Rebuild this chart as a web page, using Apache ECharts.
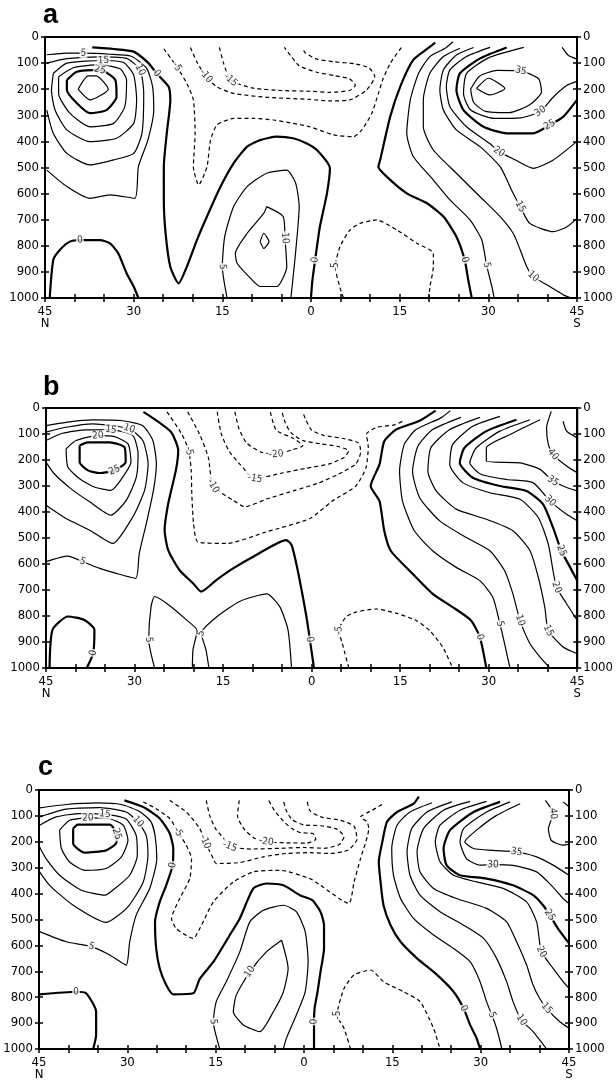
<!DOCTYPE html>
<html>
<head>
<meta charset="utf-8">
<script src="https://cdn.jsdelivr.net/npm/echarts/dist/echarts.min.js"></script>
<style>
  html, body { margin: 0; padding: 0; background: #fff; }
  #chart { width: 616px; height: 1084px; }
</style>
</head>
<body>
<div id="chart"></div>
<script>
// contour lines: [value (m/s), [[lat, hPa], ...], indexes of labelled points]
// lat < 0 is north of the equator (left side), lat > 0 is south
const contoursA = [
  [30, [[-39.4,200],[-37.7,149],[-36.3,149],[-34.3,200],[-37.4,241],[-39.4,200]], []],
  [25, [[-41.3,165],[-39.6,133],[-35.7,126],[-33.1,165],[-32.9,229],[-34.6,280],[-37.4,292],[-39.6,254],[-41.3,203],[-41.3,165]], [2]],
  [20, [[-42.7,152],[-40.2,118],[-35.7,106],[-32.3,122],[-31.2,165],[-31.5,267],[-33.4,331],[-37.4,344],[-40.8,292],[-42.7,216],[-42.7,152]], []],
  [15, [[-43.6,140],[-41.3,100],[-35.1,90],[-31.7,98],[-30,146],[-29.5,241],[-30,331],[-32.9,388],[-37.4,401],[-41.3,356],[-43.3,280],[-43.9,203],[-43.6,140]], [2]],
  [10, [[-44.7,100],[-41.3,83],[-35.7,76],[-31.2,82],[-28.9,126],[-28.3,216],[-28.6,369],[-30,446],[-33.4,471],[-37.4,490],[-41.3,446],[-43.6,369],[-44.7,280]], [4]],
  [5, [[-44.7,510],[-41.3,573],[-37.4,618],[-34,605],[-29.8,618],[-29.2,497],[-27.6,395],[-26.6,280],[-26.8,190],[-27.8,120],[-30.4,74],[-34,66],[-38.5,62],[-41.3,62],[-44.7,68]], [12]],
  [0, [[-37,40],[-33.4,46],[-30,56],[-27.5,100],[-26.1,140],[-24.1,190],[-23.8,241],[-24.4,369],[-24.9,497],[-24.9,624],[-24.6,752],[-23.8,880],[-22.4,944],[-21,880],[-19.3,778],[-17.6,688],[-15.3,573],[-13.1,484],[-10.8,420],[-8.6,395],[-5.8,382],[-3,388],[-0.8,407],[1,433],[3.2,503],[2.7,599],[1.5,727],[0.7,854],[0.2,940],[0,1000]], [4, 27]],
  [0, [[-44.2,1000],[-43.6,854],[-42.5,816],[-40.8,784],[-39.1,778],[-35.7,778],[-34,791],[-32.6,829],[-31.2,905],[-30,956],[-29.2,1000]], [4]],
  [5, [[-14.2,1000],[-15,880],[-14.6,765],[-13.1,650],[-10.8,573],[-7.5,522],[-4.1,510],[-2.6,560],[-2,650],[-2.3,750],[-2.8,870],[-3.4,1000]], [1]],
  [10, [[-7.5,650],[-4.7,688],[-4.4,770],[-4.1,880],[-5.8,956],[-8.6,956],[-10.5,918],[-12.5,867],[-12.8,829],[-10.8,752],[-8,676],[-7.5,650]], [2]],
  [15, [[-8.6,784],[-8,752],[-7.1,784],[-8,810],[-8.6,784]], []],
  [0, [[21,22],[19.8,43],[17.3,88],[15.1,190],[13.4,305],[11.7,471],[11.4,497],[12.8,535],[16.2,599],[19.6,637],[22.4,688],[24.6,765],[26,854],[26.6,931],[27.2,1000]], [12]],
  [5, [[24,18],[22.7,43],[20.1,75],[18.2,139],[16.8,241],[16.2,369],[17.3,458],[20.7,548],[23.5,624],[26.9,701],[28.9,778],[29.7,874],[30.6,956],[31,1000]], [11]],
  [10, [[25.2,43],[22.4,75],[20.1,139],[19,241],[19,344],[20.7,433],[24.6,522],[28.6,612],[32,688],[34.2,752],[35.4,816],[36.5,880],[37.6,918],[40.4,956],[42.7,988],[44,1000]], [12]],
  [15, [[27.5,40],[24.6,69],[22.4,126],[21.8,203],[22.4,280],[24.6,356],[28.6,420],[32,497],[34.2,599],[35.4,650],[37,714],[41,746],[43.3,727],[45,695]], [9]],
  [20, [[30.3,40],[26.3,75],[23.5,126],[22.9,190],[23.5,267],[26.3,344],[30.3,409],[31.8,440],[34.5,470],[37.6,503],[41,471],[45,400]], [7]],
  [25, [[33.1,40],[28.6,82],[25.2,139],[24.6,203],[25.8,280],[29.2,344],[33.1,369],[37.6,369],[40.4,337],[42.7,305],[45,241]], [8]],
  [30, [[36,40],[30,80],[26.3,140],[25.8,216],[27,280],[31,312],[35.5,310],[38.8,285],[41,230],[43.3,185],[45,170]], [7]],
  [35, [[27,200],[28.5,150],[31.5,128],[35.5,130],[38.5,160],[39,210],[37,260],[33.5,290],[29.5,285],[27.5,250],[27,200]], [3]],
  [40, [[28,197],[30,158],[32.8,197],[30.3,222],[28,197]], []],
  [35, [[42.5,40],[43.5,70],[45,85]], []],
  [-5, [[-24.9,45],[-22.7,114],[-21,178],[-19.9,241],[-19.6,369],[-19.9,497],[-19,567],[-17.6,497],[-17,395],[-15.9,337],[-13.1,312],[-9.7,312],[-6.3,318],[-3,331],[-0.2,344],[3.8,375],[7.2,382],[8.6,356],[10.3,292],[11.4,216],[12.2,160],[13.4,101],[15.3,40]], [1]],
  [-10, [[-20.4,40],[-19.2,100],[-17.8,150],[-16,190],[-13.1,216],[-7.5,231],[-0.2,239],[3,245],[6.6,241],[9.4,203],[10.8,152],[9.8,118],[7.5,103],[4,95],[1,85],[-1,60],[-1.5,40]], [2]],
  [-15, [[-15.5,40],[-14.8,100],[-13.6,165],[-10,195],[-5,205],[0,208],[3,212],[6.5,205],[7.5,185],[6.5,160],[4,148],[1,135],[-2,110],[-3.5,70],[-4.5,40]], [2]],
  [-5, [[5.5,1000],[4.9,960],[4.1,880],[4.9,803],[6.6,739],[8.3,714],[11.1,701],[14.5,739],[17.9,790],[20.7,829],[20.7,880],[20.1,960],[20,1000]], [2]]
];

const contoursB = [
  [25, [[-39.3,144],[-37.9,132],[-34.2,132],[-31.7,151],[-31.5,208],[-33.4,240],[-35.9,250],[-37.9,240],[-39.3,208],[-39.3,144]], [5]],
  [20, [[-41.6,157],[-39.9,125],[-36.2,106],[-33.4,110],[-31.1,138],[-30.6,208],[-32,266],[-34,317],[-36.8,304],[-39.3,272],[-41.3,227],[-41.6,157]], [2]],
  [15, [[-45,125],[-42.2,97],[-38.2,84],[-34,84],[-30.3,106],[-29.4,176],[-29.7,266],[-31.4,355],[-34,412],[-37.6,361],[-40.8,310],[-43.6,253],[-45,208]], [3]],
  [10, [[-45,93],[-41.6,74],[-37.1,61],[-30.9,80],[-28.6,125],[-27.7,215],[-28.3,317],[-30.3,419],[-33.7,521],[-37.6,470],[-41.6,425],[-45,374]], [3]],
  [5, [[-45,68],[-41.6,55],[-37.1,46],[-32,49],[-28.6,68],[-26.9,125],[-26.3,215],[-26.8,317],[-28,444],[-29.2,559],[-29.8,655],[-33.1,636],[-35.9,617],[-38.8,591],[-41.3,570],[-45,591]], [13]],
  [0, [[-28.5,15],[-26.5,45],[-23.8,93],[-22.6,163],[-23,240],[-24.3,368],[-24.9,470],[-24.3,547],[-22.4,623],[-20.1,674],[-18.7,706],[-16.1,661],[-13.3,617],[-9.9,572],[-4.3,508],[-3.4,527],[-2.6,598],[-1.7,700],[-0.9,800],[-0.3,890],[0.4,1000]], [19]],
  [0, [[-44.4,1000],[-43.9,853],[-41.3,802],[-38.5,815],[-36.8,853],[-37,942],[-38.1,1000]], [5]],
  [5, [[-26.6,1000],[-27.6,891],[-27.2,764],[-26.6,725],[-24.6,751],[-21.2,815],[-19.4,856],[-20.1,930],[-20.2,1000]], [1]],
  [5, [[-17.4,1000],[-17.9,930],[-18.7,866],[-16.1,804],[-12.2,744],[-7.6,715],[-5.4,764],[-4,853],[-3.4,1000]], [2]],
  [0, [[21,10],[18.3,49],[14.3,83],[12.3,128],[11.5,217],[10,300],[11.5,358],[12.3,472],[13.4,549],[16.6,626],[20.5,715],[23.9,766],[27,817],[28.5,881],[29.6,1000]], [13]],
  [5, [[23.5,10],[21.9,38],[17.7,83],[15.7,140],[14.9,243],[15.4,358],[17.4,472],[20.5,549],[24.5,613],[28.5,664],[30.7,728],[31.9,830],[32.7,907],[33.6,1000]], [11]],
  [10, [[25.3,36],[20.5,83],[18,147],[17.1,243],[18.3,345],[21.7,434],[26.2,498],[30.2,549],[32.7,626],[34.1,715],[35.3,817],[37,907],[38.7,958],[40.4,1000]], [10]],
  [15, [[28.5,36],[23.4,83],[20.2,153],[19.7,243],[21.1,319],[24.5,389],[29.6,428],[34.1,472],[37,549],[38.4,651],[39.5,766],[40.1,856],[42.6,919],[45,945]], [11]],
  [20, [[31.9,32],[27.3,70],[23.9,140],[23.4,217],[25.6,287],[30.2,326],[35.3,351],[38.4,421],[40.1,524],[40.9,626],[41.5,690],[43.2,753],[45,817]], [10]],
  [25, [[34.7,45],[29.6,89],[25.9,153],[25.1,211],[27.3,268],[31.9,300],[36.4,319],[39.2,370],[40.9,460],[42.3,549],[43.8,613],[45,664]], [9]],
  [30, [[37,45],[31.9,89],[27.9,153],[26.8,211],[28.7,255],[33,275],[37.5,287],[40.4,358],[43.2,409],[45,434]], [7]],
  [35, [[38.7,45],[33.6,102],[29.6,153],[29.6,204],[35.3,211],[38.7,236],[40.9,281],[43.2,306],[45,319]], [6]],
  [40, [[40.6,13],[39.8,77],[40.1,140],[40.9,179],[43.2,223],[45,249]], [3]],
  [45, [[42.6,51],[43.2,89],[45,115]], []],
  [-5, [[-24.5,15],[-22,100],[-20.8,165],[-20.4,240],[-20.3,330],[-20,445],[-19.3,515],[-14.4,521],[-7.6,476],[-0.3,425],[3.5,358],[7.5,300],[9.2,230],[9.6,150],[9.3,100],[11,75],[14,65],[15.5,50]], [2]],
  [-10, [[-21,15],[-19,100],[-17.5,190],[-16.7,300],[-13.3,355],[-11.3,380],[-7.6,350],[-3,318],[1,290],[4.5,255],[7.5,215],[8.3,170],[8,135],[5.5,118],[2,105],[0,85],[-1,45],[-1.5,15]], [3]],
  [-15, [[-16,15],[-15.3,100],[-14,165],[-12,220],[-9.6,272],[-5,250],[-1,232],[3,215],[5.5,190],[6.3,165],[4.5,148],[1.5,138],[-1.5,125],[-3.5,95],[-4.5,55],[-5,15]], [4]],
  [-20, [[-13,15],[-12.3,80],[-11,135],[-8.5,170],[-6,178],[-3.5,162],[-1.5,145],[-3,118],[-6,85],[-7,15]], [4]],
  [-5, [[6.3,1000],[5.2,906],[4.6,856],[5.8,804],[7.5,785],[10.9,773],[14.3,789],[17.7,817],[20,856],[22.2,919],[23.9,1000]], [2]]
];

const contoursC = [
  [25, [[-39.2,149],[-38.4,134],[-33,134],[-31.8,170],[-31.9,205],[-33.6,233],[-37.2,242],[-39.2,207],[-39.2,149]], [3]],
  [20, [[-41.5,155],[-39.8,117],[-36.7,108],[-33,111],[-30.7,136],[-29.9,194],[-31,258],[-33.6,303],[-37.2,310],[-39.8,278],[-41.2,226],[-41.5,155]], [2]],
  [15, [[-44.9,136],[-42.1,104],[-38.1,91],[-33.8,93],[-30.2,112],[-28.5,175],[-28.3,252],[-29.6,329],[-32.1,380],[-33.8,406],[-37.8,387],[-41.5,329],[-43.8,265],[-44.9,220]], [3]],
  [10, [[-44.9,104],[-40.4,74],[-34.7,68],[-30.2,85],[-28.2,123],[-26.8,175],[-26.5,252],[-27.3,355],[-29.9,451],[-33.6,511],[-39.2,445],[-43.2,368],[-44.9,316]], [4]],
  [5, [[-44.9,69],[-40.4,56],[-35,50],[-31,56],[-28,82],[-26,122],[-25.3,175],[-25,265],[-26.2,380],[-28.5,483],[-29.6,586],[-30.2,676],[-33,637],[-36.1,605],[-40.4,586],[-44.9,547]], [13]],
  [0, [[-30.5,40],[-27.3,66],[-24.5,110],[-22.8,168],[-22.2,226],[-22.3,290],[-23.4,368],[-24.5,432],[-25.3,509],[-25.1,612],[-24.5,689],[-23.4,753],[-22.2,789],[-18.8,785],[-17.7,729],[-15.4,664],[-12.6,560],[-10.9,496],[-8.6,380],[-6.4,361],[-3.5,368],[-0.7,406],[1.4,425],[2.8,470],[3.4,522],[3.4,612],[2.8,702],[2.3,779],[1.8,843],[1.7,894],[1.7,1000]], [5, 29]],
  [0, [[-44.9,789],[-38.7,779],[-37,785],[-35.3,856],[-35.3,946],[-35.8,1000]], [1]],
  [5, [[-14.3,1000],[-15.4,894],[-14.9,817],[-13.2,740],[-10.9,625],[-9.2,509],[-6.9,464],[-3.5,445],[-1.3,470],[0.2,547],[0.7,663],[0.2,779],[-1.3,869],[-3,959],[-3.5,1000]], [1]],
  [10, [[-3.8,580],[-2.7,689],[-3.5,779],[-5.2,856],[-7.5,933],[-10.3,907],[-12,856],[-11.5,792],[-9.2,702],[-6.4,625],[-3.8,580]], [8]],
  [0, [[19.5,25],[18.6,53],[15.8,85],[14.1,123],[13.3,200],[12.7,277],[13,355],[13.5,445],[14.7,522],[16.4,586],[19.2,650],[22.6,714],[25.4,779],[27.1,843],[28.2,907],[29.3,958],[29.9,1000]], [13]],
  [5, [[21.7,49],[18,85],[15.8,136],[14.9,226],[15.2,329],[16.4,419],[18.6,496],[22,560],[25.4,612],[28.2,663],[29.9,740],[31,817],[31.9,869],[32.7,920],[33.3,971],[33.6,1000]], [12]],
  [10, [[25.1,46],[20.9,85],[18.3,149],[17.5,239],[18,329],[19.7,406],[23.1,470],[27.1,522],[30.5,573],[32.7,650],[34.4,740],[35.5,817],[36.9,888],[38.9,933],[41.2,1000]], [12]],
  [15, [[28.2,44],[23.7,78],[20.3,149],[19.2,239],[19.7,316],[22,380],[25.9,419],[31,457],[34.4,509],[36.1,586],[37.8,676],[38.9,753],[40,804],[41.2,843],[43.4,894],[45,920]], [13]],
  [20, [[31,44],[26.5,78],[23.1,136],[22.3,200],[23.1,277],[25.4,329],[29.3,355],[33.8,380],[37.8,432],[39.5,509],[40,586],[40.3,625],[42.3,689],[44,740],[45,766]], [11]],
  [25, [[33.3,46],[28.8,85],[24.8,155],[23.7,226],[24.2,290],[26.5,329],[31,342],[35.5,368],[38.9,406],[40.6,445],[41.7,483],[43.1,534],[45,592]], [10]],
  [30, [[35,46],[31,85],[27.1,149],[26.5,200],[27.6,265],[29.9,290],[32.1,288],[35.5,291],[39.5,316],[42,368],[44,419],[45,438]], [6]],
  [35, [[36.7,53],[32.7,98],[29.3,155],[27.3,200],[28.8,226],[32.1,233],[36.1,239],[39.5,258],[42.3,290],[45,329]], [6]],
  [40, [[41,40],[42.3,91],[41.5,150],[42,195],[44,213],[45,210]], [1]],
  [45, [[44,46],[45,65]], []],
  [-5, [[-27.3,46],[-25.1,72],[-22.8,110],[-21.4,162],[-20,213],[-19.1,265],[-19.4,342],[-21.1,419],[-22.5,496],[-21.7,535],[-18.8,573],[-17.7,535],[-15.4,432],[-12,355],[-8.6,316],[-4.1,310],[1,342],[2.8,368],[7.6,438],[8.5,355],[9.6,265],[11,149],[10.7,123],[9.6,104],[11.6,78],[13.5,53]], [3]],
  [-10, [[-22.8,40],[-20,85],[-17.7,149],[-16.8,200],[-15.4,265],[-14.9,284],[-10.9,280],[-6.9,258],[-3,245],[1,242],[4.5,245],[7.5,232],[9,190],[8.5,140],[6.2,117],[3,105],[1,80],[0.5,40]], [3]],
  [-15, [[-16.6,40],[-16,100],[-15,150],[-13.7,185],[-12.6,218],[-9,228],[-4,225],[0,222],[3.5,225],[6,210],[6.8,180],[5.5,150],[3,138],[0,135],[-2,115],[-3,80],[-3.5,40]], [4]],
  [-20, [[-11,40],[-11.3,100],[-10.2,150],[-8.5,185],[-6.4,200],[-3,204],[0.5,205],[2,190],[1.5,168],[-0.5,165],[-2,150],[-3.5,120],[-5,80],[-6,40]], [4]],
  [-5, [[7.9,1000],[6.8,920],[5.6,869],[6.8,766],[8.5,714],[11.3,695],[13.5,740],[16.9,779],[19.7,817],[22,920],[23.1,1000]], [2]]
];

const panelNames = ['a', 'b', 'c'];
const latTicks = [-45, -30, -15, 0, 15, 30, 45];
const latTickLabels = ['45\nN', '30', '15', '0', '15', '30', '45\nS'];

const FONT = '"DejaVu Sans Condensed", "DejaVu Sans", sans-serif';
const grids = [
  {left: 45, top: 37, width: 532, height: 261},
  {left: 46, top: 408, width: 532, height: 260},
  {left: 39, top: 790, width: 530, height: 259}
];
const letterPos = [[43, 16], [43, 388], [38, 768]];

function xAxisOf(i, inner) {
  return {
    gridIndex: i, type: 'value', min: -45, max: 45, interval: 15, position: 'bottom',
    axisLine: {show: !inner, onZero: false, lineStyle: {color: '#000', width: 2}},
    axisTick: {inside: inner, length: 4, lineStyle: {color: '#000', width: 1.5}},
    minorTick: {show: true, splitNumber: 3, length: 4, lineStyle: {color: '#000', width: 1.5}},
    splitLine: {show: false},
    axisLabel: {
      show: !inner, color: '#000', fontSize: 13, fontFamily: FONT, lineHeight: 12, margin: 8,
      formatter: v => latTickLabels[latTicks.indexOf(v)] || ''
    }
  };
}

function yAxisOf(i, pos, inner) {
  return {
    gridIndex: i, type: 'value', inverse: true, min: 0, max: 1000, interval: 100, position: pos,
    axisLine: {show: !inner, onZero: false, lineStyle: {color: '#000', width: 2}},
    axisTick: {inside: inner, length: 4, lineStyle: {color: '#000', width: 1.5}},
    splitLine: {show: false},
    axisLabel: {show: !inner, color: '#000', fontSize: 13, fontFamily: FONT, margin: 6, formatter: v => String(v)}
  };
}

// angle of the contour at a labelled point, in screen space
function rotationAt(pts, k, g) {
  let a = pts[Math.max(k - 1, 0)], b = pts[Math.min(k + 1, pts.length - 1)];
  let dx = (b[0] - a[0]) * g.width / 90, dy = (b[1] - a[1]) * g.height / 1000;
  let deg = -Math.atan2(dy, dx) * 180 / Math.PI;
  if (deg > 90) deg -= 180;
  if (deg < -90) deg += 180;
  return deg;
}

let option = {animation: false, backgroundColor: '#fff', grid: [], xAxis: [], yAxis: [], series: [], graphic: []};

[contoursA, contoursB, contoursC].forEach((contours, i) => {
  let g = grids[i];
  option.grid.push({left: g.left, top: g.top, width: g.width, height: g.height, show: true, borderColor: '#000', borderWidth: 2});
  option.xAxis.push(xAxisOf(i, false), xAxisOf(i, true));
  option.yAxis.push(yAxisOf(i, 'left', false), yAxisOf(i, 'left', true), yAxisOf(i, 'right', false), yAxisOf(i, 'right', true));

  let labels = [];
  contours.forEach(([v, pts, at]) => {
    option.series.push({
      type: 'line', xAxisIndex: 2 * i, yAxisIndex: 4 * i, data: pts,
      showSymbol: false, symbol: 'none', smooth: 0.2, silent: true, z: 2,
      lineStyle: {color: '#000', width: (v === 0 || v === 25) ? 2.2 : 1.2, type: v < 0 ? [4, 3] : 'solid'}
    });
    at.forEach(k => labels.push({value: pts[k], name: String(v), label: {rotate: rotationAt(pts, k, g)}}));
  });
  option.series.push({
    type: 'scatter', xAxisIndex: 2 * i, yAxisIndex: 4 * i, data: labels, z: 5, silent: true,
    symbolSize: 1, itemStyle: {color: 'rgba(0,0,0,0)'},
    label: {show: true, position: 'inside', formatter: '{b}', color: '#000', fontSize: 10, fontFamily: FONT,
            backgroundColor: '#fff', padding: [0, 1]}
  });

  option.graphic.push({
    type: 'text', x: letterPos[i][0], y: letterPos[i][1],
    style: {text: panelNames[i], fill: '#000', font: 'bold 27px "Liberation Sans", Arial, sans-serif', verticalAlign: 'middle'}
  });
});

let chart = echarts.init(document.getElementById('chart'));
chart.setOption(option);
</script>
</body>
</html>
